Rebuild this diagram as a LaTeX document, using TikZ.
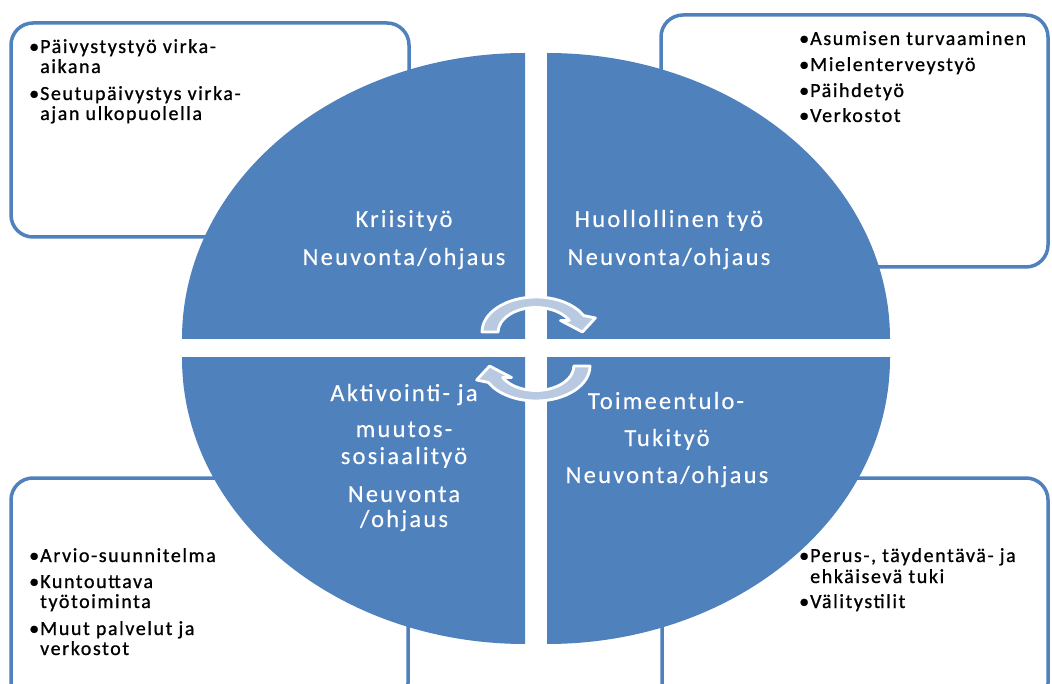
\documentclass[tikz,border=0pt]{standalone}
\usepackage{fontspec}
\setmainfont{Carlito}
\newfontfamily\quadfont[LetterSpace=9,FakeBold=0.3]{Carlito}
\newfontfamily\boxfont[LetterSpace=8,FakeBold=0.9]{Carlito}
\definecolor{qblue}{RGB}{79,129,189}
\definecolor{arrowfill}{RGB}{185,201,226}
\newcommand{\bulletmark}{\makebox[11pt][l]{•}}
\begin{document}
\begin{tikzpicture}[x=1pt,y=-1pt,
  frame/.style={draw=qblue, line width=3.5pt, fill=white, rounded corners=22pt},
  qfill/.style={fill=qblue},
  qlabel/.style={anchor=base, inner sep=0pt, text=white, font=\quadfont\fontsize{24.5}{29}\selectfont},
  blabel/.style={anchor=base west, inner sep=0pt, text=black, font=\boxfont\fontsize{20}{23}\selectfont},
  cyclearrow/.style={fill=arrowfill, draw=white, line width=2.8pt, line join=round}]

\clip (0,0) rectangle (1052,684);
\fill[white] (0,0) rectangle (1052,684);

% corner boxes
\draw[frame] (11,23) rectangle (409,237);
\draw[frame] (661,15) rectangle (1048,267);
\draw[frame] (11,478) rectangle (408,705);
\draw[frame] (662,478) rectangle (1048,705);

% quadrants
\begin{scope}
  \clip (0,0) rectangle (525,339);
  \fill[qfill] (525,339) ellipse [x radius=343, y radius=286];
\end{scope}
\begin{scope}
  \clip (547,0) rectangle (1052,339);
  \fill[qfill] (547,339) ellipse [x radius=343, y radius=286];
\end{scope}
\begin{scope}
  \clip (0,358) rectangle (525,684);
  \fill[qfill] (525,358) ellipse [x radius=343, y radius=286];
\end{scope}
\begin{scope}
  \clip (547,358) rectangle (1052,684);
  \fill[qfill] (547,358) ellipse [x radius=343, y radius=286];
\end{scope}

% circular arrows
\begin{scope}[shift={(536,332)}, xscale=54, yscale=-35]
  \draw[cyclearrow] (180:1) arc[start angle=180, end angle=28, radius=1] -- (20:1.17) -- (0:0.86) -- (36:0.56) -- (28:0.7) arc[start angle=28, end angle=180, radius=0.7] -- cycle;
\end{scope}
\begin{scope}[shift={(536,366)}, xscale=-54, yscale=35]
  \draw[cyclearrow] (180:1) arc[start angle=180, end angle=28, radius=1] -- (20:1.17) -- (0:0.86) -- (36:0.56) -- (28:0.7) arc[start angle=28, end angle=180, radius=0.7] -- cycle;
\end{scope}

% quadrant labels
\node[qlabel] (k1) at (404,227) {Kriisityö};
\node[qlabel] (k2) at (404,265) {Neuvonta/ohjaus};
\node[qlabel] (h1) at (669,227) {Huollollinen työ};
\node[qlabel] (h2) at (669,265) {Neuvonta/ohjaus};
\node[qlabel] (a1) at (404,401) {Aktivointi- ja};
\node[qlabel] (a2) at (404,437) {muutos-};
\node[qlabel] (a3) at (404,464) {sosiaalityö};
\node[qlabel] (a4) at (404,502) {Neuvonta};
\node[qlabel] (a5) at (404,527) {/ohjaus};
\node[qlabel] (t1) at (666,409) {Toimeentulo-};
\node[qlabel] (t2) at (667,446) {Tukityö};
\node[qlabel] (t3) at (667,483) {Neuvonta/ohjaus};

% box texts
\node[blabel] (tl1) at (29,53) {\bulletmark Päivystystyö virka-};
\node[blabel] (tl2) at (40,73) {aikana};
\node[blabel] (tl3) at (29,100) {\bulletmark Seutupäivystys virka-};
\node[blabel] (tl4) at (40,120) {ajan ulkopuolella};

\node[blabel] (tr1) at (799,45) {\bulletmark Asumisen turvaaminen};
\node[blabel] (tr2) at (799,71) {\bulletmark Mielenterveystyö};
\node[blabel] (tr3) at (799,97) {\bulletmark Päihdetyö};
\node[blabel] (tr4) at (799,122) {\bulletmark Verkostot};

\node[blabel] (bl1) at (29,562) {\bulletmark Arvio-suunnitelma};
\node[blabel] (bl2) at (29,588) {\bulletmark Kuntouttava};
\node[blabel] (bl3) at (40,608) {työtoiminta};
\node[blabel] (bl4) at (29,635) {\bulletmark Muut palvelut ja};
\node[blabel] (bl5) at (40,655) {verkostot};

\node[blabel] (br1) at (799,562) {\bulletmark Perus-, täydentävä- ja};
\node[blabel] (br2) at (810,583) {ehkäisevä tuki};
\node[blabel] (br3) at (799,608) {\bulletmark Välitystilit};
\end{tikzpicture}
\end{document}
